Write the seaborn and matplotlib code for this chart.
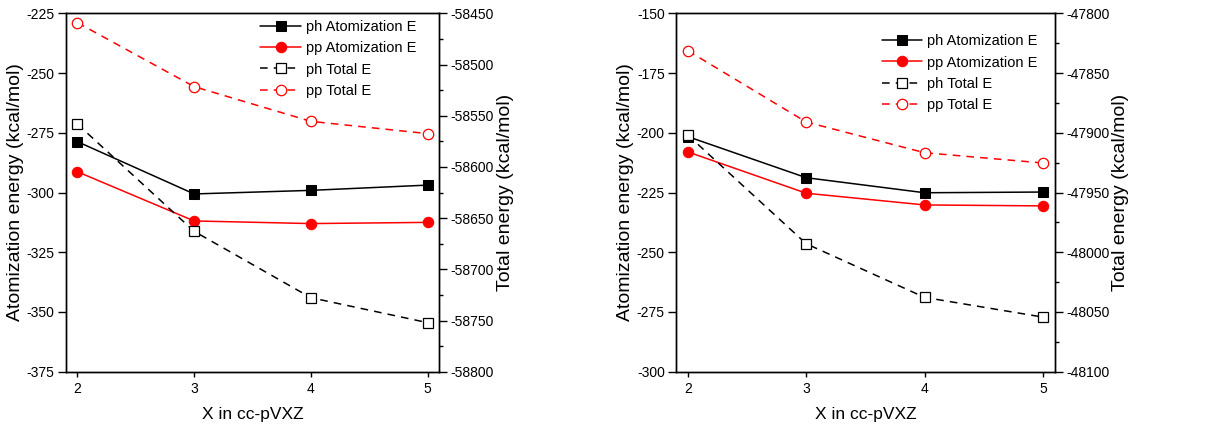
import matplotlib
matplotlib.use("Agg")
import matplotlib.pyplot as plt
from matplotlib.ticker import MultipleLocator, AutoMinorLocator
import seaborn as sns
import pandas as pd

# ---- data ----
x_vals = [2, 3, 4, 5]

# Left panel
left_ph_atom = [-278.7, -300.6, -299.1, -296.9]
left_pp_atom = [-291.3, -311.9, -313.0, -312.5]
left_ph_total = [-58558.1, -58662.9, -58727.7, -58752.1]
left_pp_total = [-58459.1, -58521.6, -58555.5, -58567.5]

# Right panel
right_ph_atom = [-201.6, -218.8, -225.1, -224.8]
right_pp_atom = [-208.0, -225.3, -230.2, -230.6]
right_ph_total = [-47901.9, -47992.9, -48037.8, -48054.3]
right_pp_total = [-47831.3, -47891.0, -47916.7, -47925.3]

series_labels = ["ph Atomization E", "pp Atomization E", "ph Total E", "pp Total E"]
x_label = "X in cc-pVXZ"
y_label_left = "Atomization energy (kcal/mol)"
y_label_right = "Total energy (kcal/mol)"

sns.set_style("ticks")
plt.rcParams["font.family"] = ["Liberation Sans", "DejaVu Sans"]
plt.rcParams["axes.linewidth"] = 1.0
plt.rcParams["axes.unicode_minus"] = False
for k in ["text.color", "axes.labelcolor", "xtick.color", "ytick.color",
          "xtick.labelcolor", "ytick.labelcolor", "axes.edgecolor"]:
    plt.rcParams[k] = "black"

fig = plt.figure(figsize=(12.23, 4.28), dpi=100)

panels = [
    dict(rect=[0.0537, 0.1315, 0.3055, 0.8374],
         atom=(left_ph_atom, left_pp_atom), total=(left_ph_total, left_pp_total),
         ylim1=(-375, -225), ylim2=(-58800, -58450), step1=25, step2=50,
         legend_anchor=(0.965, 1.01)),
    dict(rect=[0.5527, 0.1315, 0.3099, 0.8374],
         atom=(right_ph_atom, right_pp_atom), total=(right_ph_total, right_pp_total),
         ylim1=(-300, -150), ylim2=(-48100, -47800), step1=25, step2=50,
         legend_anchor=(0.98, 0.97)),
]

for p in panels:
    ax = fig.add_axes(p["rect"])
    ax2 = ax.twinx()
    ph_a, pp_a = p["atom"]
    ph_t, pp_t = p["total"]

    df = pd.DataFrame({"X": x_vals, "ph_a": ph_a, "pp_a": pp_a, "ph_t": ph_t, "pp_t": pp_t})

    sns.lineplot(data=df, x="X", y="ph_a", ax=ax, color="black", marker="s",
                 markersize=6.5, markeredgecolor="black", linewidth=1.1,
                 label=series_labels[0], legend=False)
    sns.lineplot(data=df, x="X", y="pp_a", ax=ax, color="red", marker="o",
                 markersize=7.5, markeredgecolor="red", linewidth=1.1,
                 label=series_labels[1], legend=False)
    sns.lineplot(data=df, x="X", y="ph_t", ax=ax2, color="black", marker="s",
                 markersize=6.5, markerfacecolor="white", markeredgecolor="black",
                 markeredgewidth=0.9, linewidth=1.1, linestyle=(0, (5, 4)),
                 label=series_labels[2], legend=False)
    sns.lineplot(data=df, x="X", y="pp_t", ax=ax2, color="red", marker="o",
                 markersize=7.5, markerfacecolor="white", markeredgecolor="red",
                 markeredgewidth=0.9, linewidth=1.1, linestyle=(0, (5, 4)),
                 label=series_labels[3], legend=False)

    ax.set_xlim(1.9, 5.1)
    ax.set_ylim(*p["ylim1"])
    ax2.set_ylim(*p["ylim2"])
    ax.set_xticks(x_vals)
    ax.yaxis.set_major_locator(MultipleLocator(p["step1"]))
    ax2.yaxis.set_major_locator(MultipleLocator(p["step2"]))
    ax2.yaxis.set_minor_locator(AutoMinorLocator(2))

    ax.tick_params(axis="y", direction="out", length=6, width=1.0, labelsize=10, pad=2)
    ax.tick_params(axis="x", direction="out", length=3.5, width=1.0, labelsize=10, pad=4)
    ax2.tick_params(axis="y", which="major", direction="out", length=6, width=1.0,
                    labelsize=10, pad=2)
    ax2.tick_params(axis="y", which="minor", direction="out", length=3, width=1.0)

    for a in (ax, ax2):
        for s in a.spines.values():
            s.set_visible(True)
            s.set_linewidth(1.0)
            s.set_color("black")

    ax.set_xlabel(x_label, fontsize=12.5, labelpad=8)
    ax.set_ylabel(y_label_left, fontsize=14, labelpad=2)
    ax2.set_ylabel(y_label_right, fontsize=14, labelpad=2)

    h1, l1 = ax.get_legend_handles_labels()
    h2, l2 = ax2.get_legend_handles_labels()
    leg = ax2.legend(h1 + h2, l1 + l2, loc="upper right", bbox_to_anchor=p["legend_anchor"],
                     frameon=False, fontsize=10.5, handlelength=2.8, handletextpad=0.3,
                     labelspacing=0.5, borderaxespad=0.3)

fig.savefig("out.png", dpi=100)
